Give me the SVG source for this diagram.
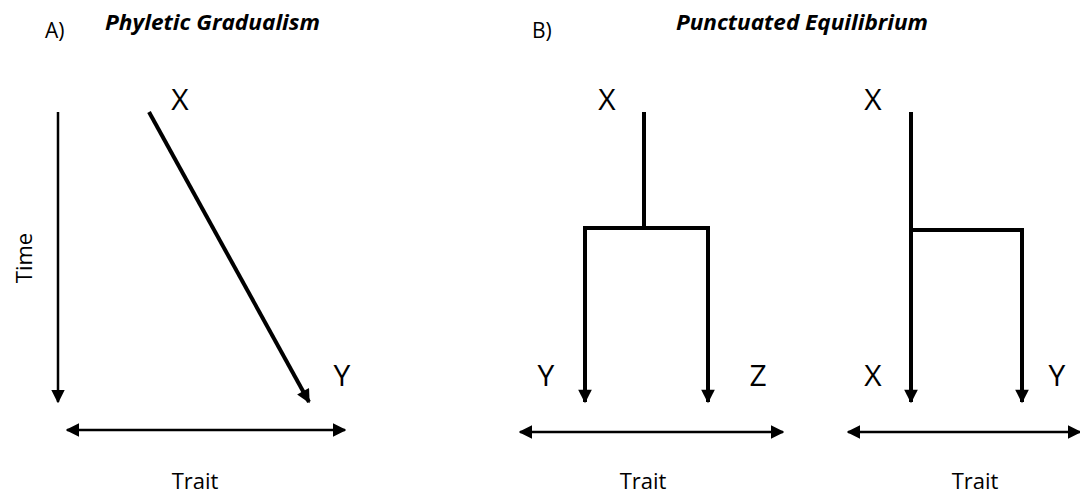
<svg xmlns="http://www.w3.org/2000/svg" width="1080" height="495" viewBox="0 0 1080 495">
<style>
text{font-family:"Open Sans","Liberation Sans",sans-serif;fill:#000}
.lbl{font-size:30px}
.title{font-size:21px;font-weight:bold;font-style:italic}
.panel{font-size:21px}
.axis-t{font-size:22px}
.thick{stroke:#000;stroke-width:4;fill:none}
.thin{stroke:#000;stroke-width:2.5;fill:none}
</style>
<defs>
<marker id="ah" viewBox="0 0 10 10" refX="9" refY="5" markerWidth="5.5" markerHeight="5.5" markerUnits="strokeWidth" orient="auto-start-reverse">
<path d="M0,0 L10,5 L0,10 z" fill="#000"/>
</marker>
<marker id="ah2" viewBox="0 0 10 10" refX="9" refY="5" markerWidth="3.6" markerHeight="3.4" markerUnits="strokeWidth" orient="auto">
<path d="M0,0 L10,5 L0,10 z" fill="#000"/>
</marker>
</defs>
<g id="labels">
<text class="panel" x="45" y="38">A)</text>
<text class="title" x="105" y="30" textLength="215" lengthAdjust="spacingAndGlyphs">Phyletic Gradualism</text>
<text class="panel" x="532" y="38">B)</text>
<text class="title" x="676" y="30" textLength="252" lengthAdjust="spacingAndGlyphs">Punctuated Equilibrium</text>
<text class="axis-t" transform="translate(32,258) rotate(-90)" text-anchor="middle">Time</text>
</g>
<g id="panelA">
<text class="lbl" x="180" y="110" text-anchor="middle">X</text>
<text class="lbl" x="342" y="386" text-anchor="middle">Y</text>
<text class="axis-t" x="195" y="489" text-anchor="middle">Trait</text>
</g>
<g id="panelB1">
<text class="lbl" x="607" y="110" text-anchor="middle">X</text>
<text class="lbl" x="546" y="386" text-anchor="middle">Y</text>
<text class="lbl" x="758" y="386" text-anchor="middle">Z</text>
<text class="axis-t" x="643" y="489" text-anchor="middle">Trait</text>
</g>
<g id="panelB2">
<text class="lbl" x="873" y="110" text-anchor="middle">X</text>
<text class="lbl" x="873" y="386" text-anchor="middle">X</text>
<text class="lbl" x="1057" y="386" text-anchor="middle">Y</text>
<text class="axis-t" x="975" y="489" text-anchor="middle">Trait</text>
</g>
<g id="connectors">
<line class="thin" x1="58" y1="112" x2="58" y2="402" marker-end="url(#ah)"/>
<line class="thick" x1="149" y1="112" x2="309" y2="402" marker-end="url(#ah2)"/>
<line class="thin" x1="67" y1="430" x2="345" y2="430" marker-start="url(#ah)" marker-end="url(#ah)"/>
<polyline class="thick" points="644,112 644,228"/>
<polyline class="thick" points="585,402 585,228 708,228 708,402"/>
<line class="thick" x1="585" y1="300" x2="585" y2="402" marker-end="url(#ah2)"/>
<line class="thick" x1="708" y1="300" x2="708" y2="402" marker-end="url(#ah2)"/>
<line class="thin" x1="520" y1="432" x2="783" y2="432" marker-start="url(#ah)" marker-end="url(#ah)"/>
<line class="thick" x1="911" y1="112" x2="911" y2="402" marker-end="url(#ah2)"/>
<polyline class="thick" points="911,230 1022,230 1022,402"/>
<line class="thick" x1="1022" y1="300" x2="1022" y2="402" marker-end="url(#ah2)"/>
<line class="thin" x1="848" y1="432" x2="1080" y2="432" marker-start="url(#ah)" marker-end="url(#ah)"/>
</g>
</svg>
